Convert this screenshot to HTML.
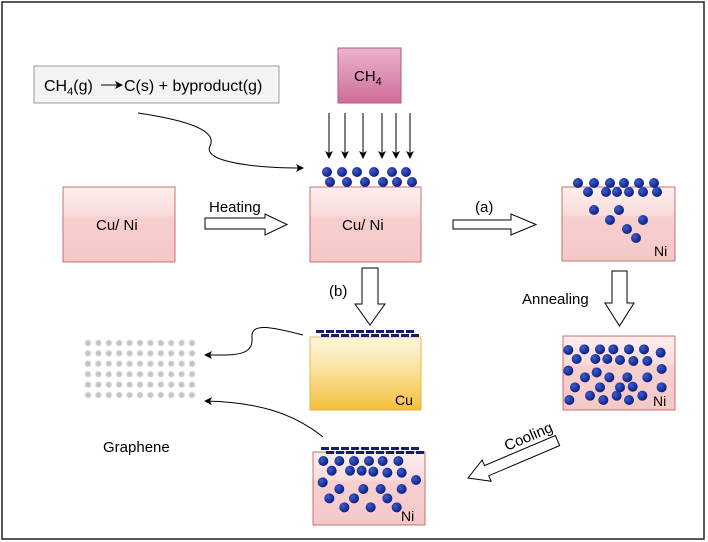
<!DOCTYPE html><html><head><style>body{margin:0;background:#fff}svg{display:block;font-family:"Liberation Sans",sans-serif}</style></head><body>
<svg id="s" width="708" height="542" viewBox="0 0 708 542" xmlns="http://www.w3.org/2000/svg">
<defs>
<linearGradient id="pk" x1="0" y1="0" x2="0" y2="1"><stop offset="0" stop-color="#fdeeee"/><stop offset="0.38" stop-color="#f9dcdc"/><stop offset="0.4" stop-color="#f7cfcf"/><stop offset="1" stop-color="#f5c8c8"/></linearGradient>
<linearGradient id="cu" x1="0" y1="0" x2="0" y2="1"><stop offset="0" stop-color="#fdf6dc"/><stop offset="0.4" stop-color="#fbe6a6"/><stop offset="1" stop-color="#f4bf3a"/></linearGradient>
<linearGradient id="ch" x1="0" y1="0" x2="0" y2="1"><stop offset="0" stop-color="#ebb4cd"/><stop offset="1" stop-color="#cd6d98"/></linearGradient>
<radialGradient id="ball" cx="0.35" cy="0.35" r="0.7"><stop offset="0" stop-color="#3c5cd0"/><stop offset="1" stop-color="#0a1e7a"/></radialGradient>
<marker id="ah" markerWidth="8" markerHeight="8" refX="7" refY="4" orient="auto" markerUnits="userSpaceOnUse"><path d="M0,0 L8,4 L0,8 L2,4 z" fill="#000"/></marker>
<filter id="bl"><feGaussianBlur stdDeviation="0.6"/></filter>
</defs>
<rect x="2" y="2" width="702" height="537" fill="none" stroke="#222" stroke-width="1.5"/>
<rect x="34" y="66" width="245" height="37" fill="#f3f3f3" stroke="#999"/>
<text x="44" y="91" font-size="16">CH<tspan font-size="11" dy="4">4</tspan><tspan dy="-4">(g)</tspan></text>
<line x1="101" y1="85" x2="122" y2="85" stroke="#000" marker-end="url(#ah)"/>
<text x="124" y="91" font-size="16">C(s) + byproduct(g)</text>
<rect x="338" y="48" width="63" height="55" fill="url(#ch)" stroke="#b45a82"/>
<text x="354" y="81" font-size="15">CH<tspan font-size="11" dy="4">4</tspan></text>
<g stroke="#000" marker-end="url(#ah)"><line x1="329" y1="113" x2="329" y2="158"/><line x1="345" y1="113" x2="345" y2="158"/><line x1="363" y1="113" x2="363" y2="158"/><line x1="382" y1="113" x2="382" y2="158"/><line x1="396" y1="113" x2="396" y2="158"/><line x1="410" y1="113" x2="410" y2="158"/></g>
<path d="M138,113 C185,120 218,130 210,146 C202,162 255,168 303,168" fill="none" stroke="#000" marker-end="url(#ah)"/>
<rect x="63" y="187" width="112" height="75" fill="url(#pk)" stroke="#c0504d" stroke-width="0.8"/>
<text x="96" y="230" font-size="15">Cu/ Ni</text>
<rect x="310" y="187" width="111" height="75" fill="url(#pk)" stroke="#c0504d" stroke-width="0.8"/>
<text x="342" y="230" font-size="15">Cu/ Ni</text>
<rect x="562" y="187" width="113" height="74" fill="url(#pk)" stroke="#c0504d" stroke-width="0.8"/>
<text x="654" y="256" font-size="14">Ni</text>
<rect x="563" y="336" width="112" height="74" fill="url(#pk)" stroke="#c0504d" stroke-width="0.8"/>
<text x="653" y="406" font-size="14">Ni</text>
<rect x="310" y="337" width="111" height="73" fill="url(#cu)" stroke="#e0a830" stroke-width="0.8"/>
<text x="395" y="405" font-size="14">Cu</text>
<rect x="313" y="452" width="112" height="73" fill="url(#pk)" stroke="#c0504d" stroke-width="0.8"/>
<text x="401" y="521" font-size="14">Ni</text>
<g fill="#fff" stroke="#000" stroke-width="1">
<polygon points="205,218 265,218 265,214 287,224.5 265,235 265,229 205,229"/>
<polygon points="453,220 511,220 511,214 536,224.5 511,235 511,229 453,229"/>
<polygon points="362,268 378,268 378,304 385,304 370,325 355,304 362,304"/>
<polygon points="612,271 627,271 627,303 634,303 619.5,326 605,303 612,303"/>
<g transform="translate(468,478) rotate(-23)"><polygon points="0,0 20,-11 20,-5 97,-5 97,6 20,6 20,12"/></g>
</g>
<text x="209" y="212" font-size="15">Heating</text>
<text x="475" y="212" font-size="15">(a)</text>
<text x="329" y="296" font-size="15">(b)</text>
<text x="522" y="304" font-size="15">Annealing</text>
<text x="103" y="452" font-size="15">Graphene</text>
<text transform="translate(507,451) rotate(-23)" font-size="15">Cooling</text>
<path d="M303,335 C272,327 250,322 252,338 C254,357 232,355 205,355" fill="none" stroke="#000" marker-end="url(#ah)"/>
<path d="M323,437 C292,412 255,402 205,401" fill="none" stroke="#000" marker-end="url(#ah)"/>
<g id="dots"></g>
</svg>
<script>
var g=document.getElementById('dots'),ns='http://www.w3.org/2000/svg';
function c(x,y,r,f){var e=document.createElementNS(ns,'circle');e.setAttribute('cx',x);e.setAttribute('cy',y);e.setAttribute('r',r);e.setAttribute('fill',f);g.appendChild(e);return e;}
[[327,172],[342,172],[357,172],[374,172],[392,172],[406,172],[330,182],[347,182],[365,182],[383,182],[397,182],[412,182],
[578,183],[594,183],[610,183],[624,183],[639,183],[654,183],[588,192],[606,192],[617,192],[629,192],[643,192],[657,192],[594,210],[619,210],[610,220],[643,220],[627,229],[636,238]].forEach(function(p){c(p[0],p[1],5,'url(#ball)')});
[[385,570],[433,568],[480,568],[520,568],[567,568],[612,568],[662,578],[410,597],[466,597],[502,597],[540,600],[580,603],[622,603],[385,632],[470,637],[508,652],[562,652],[622,652],[665,627],[435,652],[405,682],[480,682],[540,682],[578,680],[665,682],[450,707],[490,720],[530,707],[567,720],[607,707],[388,720]].forEach(function(p){c(440+p[0]/3,160+p[1]/3,5,'url(#ball)')});
[[790,603],[838,603],[882,603],[927,603],[968,603],[1015,603],[815,632],[870,632],[905,632],[940,635],[982,638],[1025,638],[788,667],[1068,660],[838,687],[910,687],[962,687],[1025,687],[808,715],[882,715],[982,715],[853,742],[932,742],[1010,742]].forEach(function(p){c(60+p[0]/3,260+p[1]/3,5,'url(#ball)')});
for(var i=0;i<11;i++)for(var j=0;j<6;j++){var e=c(88+i*10.4,343+j*10.4,3,'#c4c4c4');e.setAttribute('filter','url(#bl)');}
function dash(x0,x1,y0){for(var r=0;r<2;r++)for(var x=x0+(r?5:0);x<x1;x+=10){var e=document.createElementNS(ns,'rect');e.setAttribute('x',x);e.setAttribute('y',y0+r*4);e.setAttribute('width',8);e.setAttribute('height',3);e.setAttribute('fill','#141e6e');g.appendChild(e);}}
dash(316,414,330);dash(321,420,447);
</script>
</body></html>
